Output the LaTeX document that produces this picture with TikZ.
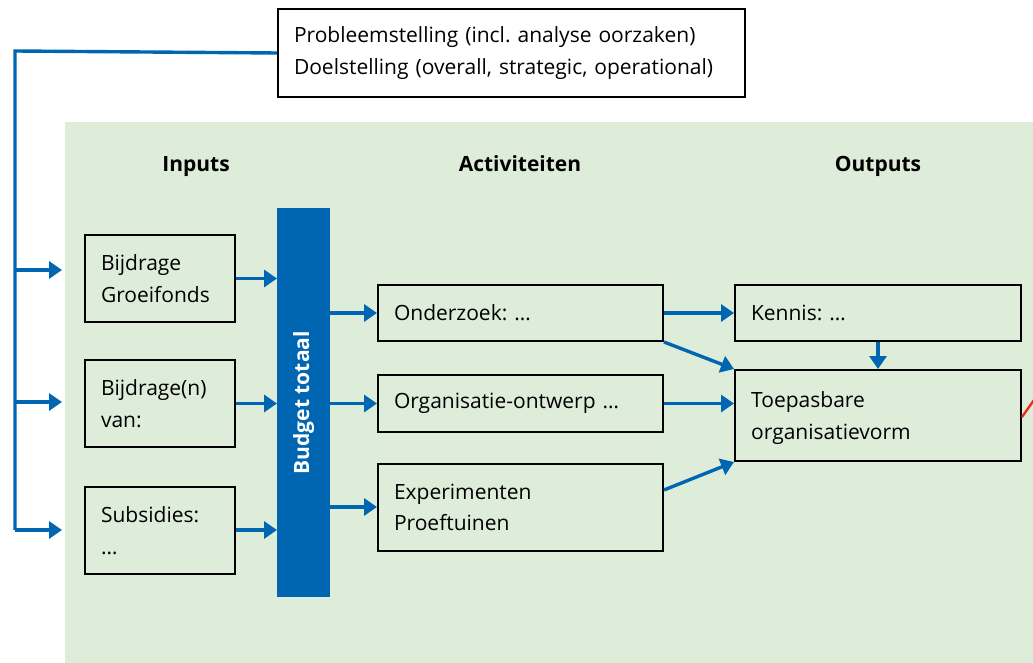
\documentclass[tikz,border=0pt]{standalone}
\usepackage{fontspec}
\setmainfont{Open Sans}
\usetikzlibrary{arrows.meta}
\definecolor{rvblue}{RGB}{0,102,178}
\definecolor{bggreen}{RGB}{221,237,218}
\definecolor{linkred}{RGB}{235,45,30}
\begin{document}
\frenchspacing
\begin{tikzpicture}[x=1pt,y=-1pt,
  every node/.style={font=\fontsize{21}{31.5}\selectfont},
  box/.style={draw=black,line width=2pt,anchor=north west,align=left,
    inner xsep=16pt,inner ysep=0pt},
  head/.style={font=\fontsize{21}{31}\selectfont\bfseries,anchor=base},
  flow/.style={draw=rvblue,line width=3.4pt,-{Triangle[length=13pt,width=17pt]}},
  feed/.style={draw=rvblue,line width=3.4pt}]
\useasboundingbox (0,0) rectangle (1033,663);
% shaded panel
\fill[bggreen] (65,122) rectangle (1040,663);

% problem statement
\node[box,minimum width=467pt,minimum height=88pt,text width=435pt] (prob) at (277,8)
  {Probleemstelling (incl. analyse oorzaken)\\Doelstelling (overall, strategic, operational)};

% column headings
\node[head] (hin)  at (196,172) {Inputs};
\node[head] (hact) at (520,172) {Activiteiten};
\node[head] (hout) at (878,172) {Outputs};

% inputs
\node[box,minimum width=150pt,minimum height=87pt,text width=118pt] (in1) at (84,234) {Bijdrage\\Groeifonds};
\node[box,minimum width=150pt,minimum height=87pt,text width=118pt] (in2) at (84,359) {Bijdrage(n)\\van:};
\node[box,minimum width=150pt,minimum height=87pt,text width=118pt] (in3) at (84,486) {Subsidies:\\\dots};

% budget bar
\node[fill=rvblue,anchor=north west,minimum width=53pt,minimum height=389pt,inner sep=0pt] (bud) at (277,208) {};
\node[rotate=90,text=white,font=\fontsize{21}{24}\selectfont\bfseries] (budtxt) at (bud.center) {Budget totaal};

% activities
\node[box,minimum width=285pt,minimum height=56pt,text width=253pt] (act1) at (377,284) {Onderzoek: \dots};
\node[box,minimum width=285pt,minimum height=57pt,text width=253pt] (act2) at (377,374) {Organisatie-ontwerp \dots};
\node[box,minimum width=285pt,minimum height=87pt,text width=253pt] (act3) at (377,463) {Experimenten\\Proeftuinen};

% outputs
\node[box,minimum width=286pt,minimum height=56pt,text width=254pt] (out1) at (734,284) {Kennis: \dots};
\node[box,minimum width=286pt,minimum height=91pt] (out2) at (734,369) {};
\node[anchor=west,align=left,inner sep=0pt] (out2txt) at (751,418)
  {Toepasbare\\organisatievorm};

% feed line from the problem statement to the inputs
\coordinate (fk) at (15,51);
\coordinate (f1) at (62,270);
\coordinate (f2) at (62,402);
\coordinate (f3) at (62,530);
\draw[feed] (prob.west) -- (fk) -- (15,530);
\draw[flow] (15,270) -- (f1);
\draw[flow] (15,402) -- (f2);
\draw[flow] (15,530) -- (f3);

% inputs to budget
\draw[flow] (in1.east) -- (in1.east -| bud.west);
\draw[flow] (in2.east) -- (in2.east -| bud.west);
\draw[flow] (in3.east |- 0,530) -- (bud.west |- 0,530);

% budget to activities
\draw[flow] (bud.east |- act1.west) -- (act1.west);
\draw[flow] (bud.east |- act2.west) -- (act2.west);
\draw[flow] (bud.east |- 0,507) -- (act3.west |- 0,507);

% activities to outputs
\draw[flow] (act1.east) -- (out1.west);
\draw[flow] (act1.south east) -- (out2.north west);
\draw[flow] (act2.east) -- (out2.west |- act2.east);
\draw[flow] (act3.east |- 0,490) -- (out2.south west);
\draw[flow] (out1.south) -- (out2.north -| out1.south);

% link leaving to the right
\coordinate (rx) at (1046,383);
\draw[linkred,line width=2.4pt] (out2.east |- 0,417) -- (rx);
\end{tikzpicture}
\end{document}
